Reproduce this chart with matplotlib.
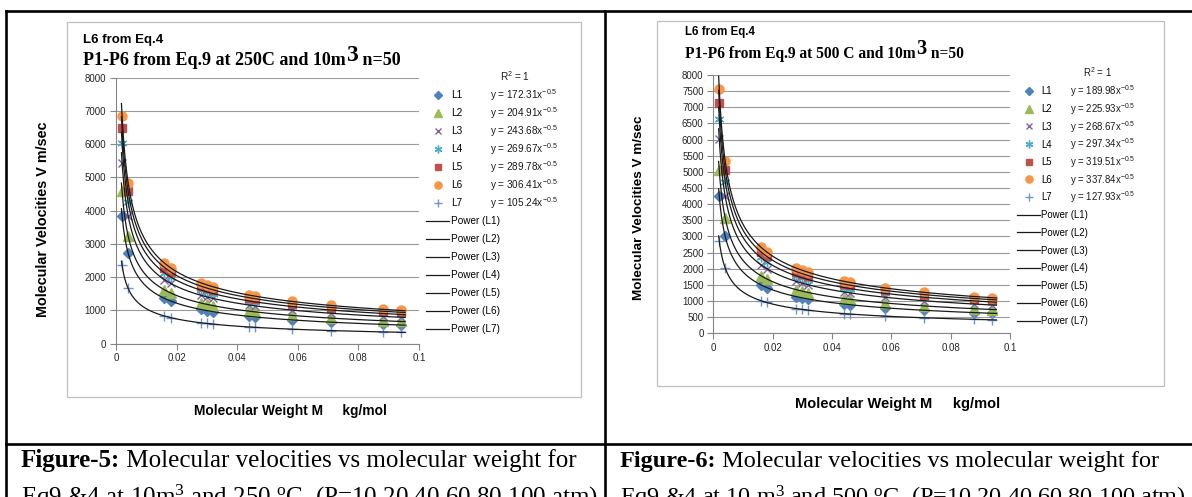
import numpy as np
import matplotlib
matplotlib.use('Agg')
import matplotlib.pyplot as plt
from matplotlib.lines import Line2D
from matplotlib.patches import Rectangle

plt.rcParams['font.family'] = 'Liberation Sans'
plt.rcParams['mathtext.default'] = 'regular'

# molecular weight of the gases, kg/mol
M = [0.002, 0.004, 0.016, 0.018, 0.028, 0.030, 0.032, 0.044, 0.046, 0.058, 0.071, 0.088, 0.094]
names = ['L1', 'L2', 'L3', 'L4', 'L5', 'L6', 'L7']
xticks = [0, 0.02, 0.04, 0.06, 0.08, 0.1]
xticklabels = ['0', '0.02', '0.04', '0.06', '0.08', '0.1']

# Figure-5, 250 C  (m/sec)
v250 = [
    [3853, 2724, 1362, 1284, 1030, 995, 963, 821, 803, 715, 647, 581, 562],
    [4582, 3240, 1620, 1527, 1225, 1183, 1145, 977, 955, 851, 769, 691, 668],
    [5449, 3853, 1926, 1816, 1456, 1407, 1362, 1162, 1136, 1012, 915, 821, 795],
    [6030, 4264, 2132, 2010, 1612, 1557, 1508, 1286, 1257, 1120, 1012, 909, 880],
    [6480, 4582, 2291, 2160, 1732, 1673, 1620, 1381, 1351, 1203, 1088, 977, 945],
    [6852, 4845, 2422, 2284, 1831, 1769, 1713, 1461, 1429, 1272, 1150, 1033, 999],
    [2353, 1664, 832, 784, 629, 608, 588, 502, 491, 437, 395, 355, 343],
]
eq250 = ['172.31', '204.91', '243.68', '269.67', '289.78', '306.41', '105.24']

# Figure-6, 500 C  (m/sec)
v500 = [
    [4248, 3004, 1502, 1416, 1135, 1097, 1062, 906, 886, 789, 713, 640, 620],
    [5052, 3572, 1786, 1684, 1350, 1304, 1263, 1077, 1053, 938, 848, 762, 737],
    [6008, 4248, 2124, 2003, 1606, 1551, 1502, 1281, 1253, 1116, 1008, 906, 876],
    [6649, 4701, 2351, 2216, 1777, 1717, 1662, 1418, 1386, 1235, 1116, 1002, 970],
    [7144, 5052, 2526, 2382, 1909, 1845, 1786, 1523, 1490, 1327, 1199, 1077, 1042],
    [7554, 5342, 2671, 2518, 2019, 1951, 1889, 1611, 1575, 1403, 1268, 1139, 1102],
    [2861, 2023, 1011, 954, 765, 739, 715, 610, 597, 531, 480, 431, 417],
]
eq500 = ['189.98', '225.93', '268.67', '297.34', '319.51', '337.84', '127.93']

styles = [
    dict(marker='D', color='#4F81BD', ms=5),
    dict(marker='^', color='#9BBB59', ms=6.5),
    dict(marker='x', color='#8064A2', ms=6, mew=1),
    dict(marker=(6, 2, 0), color='#4BACC6', ms=7, mew=1),
    dict(marker='s', color='#C0504D', ms=6),
    dict(marker='o', color='#F79646', ms=6.5),
    dict(marker='+', color='#7394C9', ms=7, mew=1),
]

W, H = 1192, 497
fig = plt.figure(figsize=(W / 100, H / 100), dpi=100)


def fx(x):
    return x / W


def fy(y):
    return 1 - y / H


def box(x0, y0, x1, y1):
    return [x0 / W, 1 - y1 / H, (x1 - x0) / W, (y1 - y0) / H]


legends = []


def panel(p, values, eqs):
    fig.add_artist(Rectangle((fx(p['frame'][0]), fy(p['frame'][3])),
                             (p['frame'][2] - p['frame'][0]) / W,
                             (p['frame'][3] - p['frame'][1]) / H,
                             transform=fig.transFigure, fill=False,
                             edgecolor='#BFBFBF', lw=0.9))
    ax = fig.add_axes(box(*p['axes']))
    marks = []
    for vals, st in zip(values, styles):
        h, = ax.plot(M, vals, linestyle='none', zorder=3, clip_on=False, **st)
        marks.append(h)
    # power trendlines  y = a * x^b, fitted in log space
    xs = np.linspace(min(M) * 0.9, max(M) * 1.015, 400)
    lines = []
    for vals in values:
        b, ln_a = np.polyfit(np.log(M), np.log(vals), 1)
        h, = ax.plot(xs, np.exp(ln_a) * xs ** b, color='#1a1a1a', lw=0.9, zorder=4)
        lines.append(h)
    ax.set_xlim(0, 0.1)
    ax.set_ylim(0, 8000)
    ax.set_xticks(xticks)
    ax.set_xticklabels(xticklabels)
    ax.set_yticks(p['yticks'])
    for s in ['top', 'right']:
        ax.spines[s].set_visible(False)
    for s in ['left', 'bottom']:
        ax.spines[s].set_color('#868686')
        ax.spines[s].set_linewidth(0.8)
    ax.yaxis.grid(True, color='#9a9a9a', lw=0.8)
    ax.set_axisbelow(True)
    ax.tick_params(length=4, width=0.8, color='#868686', labelsize=7,
                   labelcolor='#262626', pad=3)

    leg = fig.legend(marks + lines, names + ['Power (%s)' % n for n in names],
                     loc='upper left', bbox_to_anchor=(fx(p['leg'][0]), fy(p['leg'][1])),
                     frameon=False, fontsize=p['legfs'], handlelength=p['hl'],
                     handletextpad=p['htp'], labelspacing=p['ls'], borderpad=0,
                     borderaxespad=0, markerscale=0.8)
    legends.append((leg, eqs, p))
    fig.text(fx(p['r2'][0]), fy(p['r2'][1]), 'R$^2$ = 1', ha='center', va='center',
             fontsize=p['legfs'], color='#1a1a1a')

    fig.text(fx(p['t1'][0]), fy(p['t1'][1]), 'L6 from Eq.4', weight='bold',
             fontsize=p['t1fs'], va='center')
    t2 = fig.text(fx(p['t2'][0]), fy(p['t2'][1]), p['title'], weight='bold',
                  family='Liberation Serif', fontsize=p['t2fs'], va='baseline')
    t3 = ax.annotate('3', xy=(1, 0), xycoords=t2, xytext=(0.5, 2.5),
                     textcoords='offset points', weight='bold',
                     family='Liberation Serif', fontsize=p['t2fs'] * 1.3, va='bottom')
    ax.annotate(' n=50', xy=(1, 0), xycoords=(t3, t2), weight='bold',
                family='Liberation Serif', fontsize=p['t2fs'], va='bottom')

    fig.text(fx(p['ylab'][0]), fy(p['ylab'][1]), 'Molecular Velocities V m/sec',
             rotation=90, weight='bold', fontsize=p['ylabfs'], ha='center', va='center')
    fig.text(fx(p['xlab'][0]), fy(p['xlab'][1]), 'Molecular Weight M     kg/mol',
             weight='bold', fontsize=p['xlabfs'], ha='center', va='center')

    c1 = fig.text(fx(p['cap'][0]), fy(p['cap'][1]), p['fig'], weight='bold',
                  family='Liberation Serif', fontsize=p['capfs'], va='baseline')
    ax.annotate(' Molecular velocities vs molecular weight for', xy=(1, 0), xycoords=c1,
                family='Liberation Serif', fontsize=p['capfs'], va='bottom')
    fig.text(fx(p['cap'][0]), fy(p['cap'][1] + 38), p['cap2'],
             family='Liberation Serif', fontsize=p['capfs'], va='baseline')


left = dict(frame=(67, 22, 581, 397), axes=(116, 77.7, 419, 343.7),
            yticks=list(range(0, 8001, 1000)), leg=(426, 90), legfs=7.2, hl=2.3,
            htp=0.2, ls=0.80, eqx=490, r2=(515, 76), t1=(83, 40), t2=(83, 65),
            t2fs=13, t1fs=9.5, title='P1-P6 from Eq.9 at 250C and 10m',
            ylab=(43, 219), ylabfs=10.4, xlab=(290, 411), xlabfs=9.9,
            cap=(21, 467), fig='Figure-5:', capfs=18,
            cap2='Eq9 &4 at 10m$^3$ and 250 $^o$C. (P=10,20,40,60,80,100 atm)')
right = dict(frame=(657, 21, 1164, 386), axes=(713.3, 75, 1010, 333.3),
             yticks=list(range(0, 8001, 500)), leg=(1017, 86.5), legfs=6.9, hl=2.4,
             htp=0.1, ls=0.80, eqx=1070, r2=(1097, 72), t1=(685, 32), t2=(685, 58),
             t2fs=11.2, t1fs=8.3, title='P1-P6 from Eq.9 at 500 C and 10m',
             ylab=(639, 208), ylabfs=9.7, xlab=(898, 404), xlabfs=10.5,
             cap=(620, 467), fig='Figure-6:', capfs=17.5,
             cap2='Eq9 &4 at 10 m$^3$ and 500 $^o$C. (P=10,20,40,60,80,100 atm)')

panel(left, v250, eq250)
panel(right, v500, eq500)

# table rules
for (x0, y0, x1, y1) in [(6, 11, 6, 497), (6, 11, 1192, 11), (605, 11, 605, 497),
                         (6, 444, 1192, 444)]:
    fig.add_artist(Line2D([fx(x0), fx(x1)], [fy(y0), fy(y1)], transform=fig.transFigure,
                          color='black', lw=1.9, solid_capstyle='projecting'))

# trendline equations, lined up with the legend rows
fig.canvas.draw()
for leg, eqs, p in legends:
    for t, a in zip(leg.get_texts()[:7], eqs):
        bb = t.get_window_extent()
        fig.text(fx(p['eqx']), (bb.y0 + bb.y1) / 2 / H, 'y = %sx$^{-0.5}$' % a,
                 ha='left', va='center', fontsize=p['legfs'], color='#1a1a1a')

fig.savefig('out.png', dpi=100)
